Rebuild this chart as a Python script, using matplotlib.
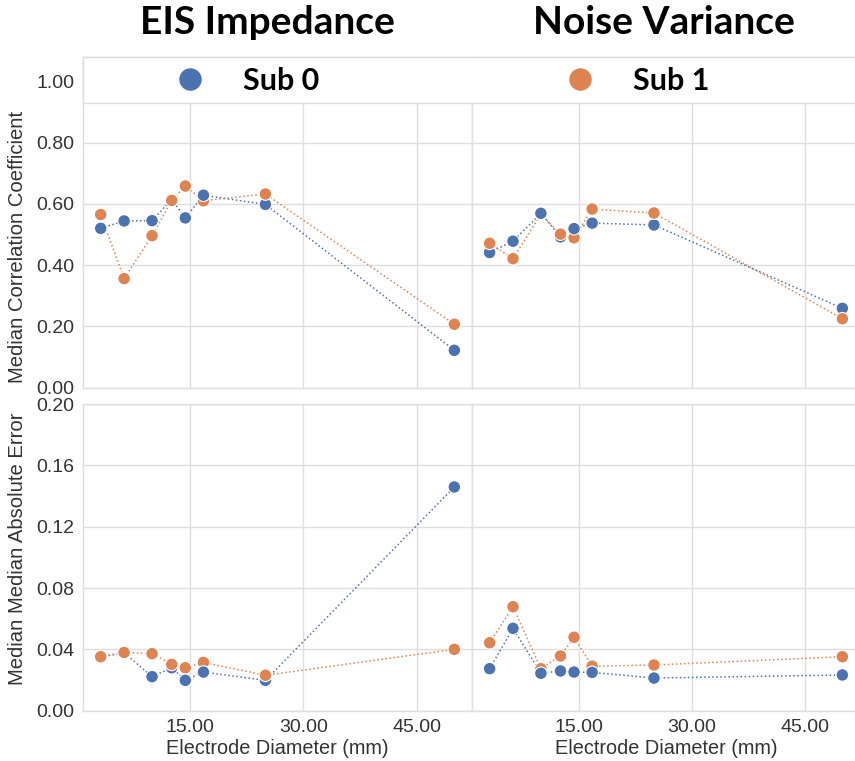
import matplotlib
matplotlib.use("Agg")
import matplotlib.pyplot as plt
from matplotlib.lines import Line2D
from matplotlib.patches import Rectangle
from matplotlib.ticker import FormatStrFormatter

# electrode diameters (mm)
diameters = [3.2, 6.3, 10.0, 12.6, 14.4, 16.8, 25.0, 50.0]
subjects = ["Sub 0", "Sub 1"]
panels = ["EIS Impedance", "Noise Variance"]

# median correlation coefficient
corr_eis_sub0 = [0.520, 0.544, 0.545, 0.614, 0.554, 0.628, 0.598, 0.122]
corr_eis_sub1 = [0.565, 0.356, 0.496, 0.611, 0.658, 0.610, 0.632, 0.207]
corr_noise_sub0 = [0.441, 0.478, 0.569, 0.492, 0.519, 0.537, 0.531, 0.259]
corr_noise_sub1 = [0.471, 0.421, 0.566, 0.501, 0.489, 0.583, 0.570, 0.225]

# median median absolute error
mae_eis_sub0 = [0.0350, 0.0378, 0.0222, 0.0280, 0.0198, 0.0252, 0.0198, 0.1459]
mae_eis_sub1 = [0.0352, 0.0380, 0.0372, 0.0302, 0.0280, 0.0315, 0.0231, 0.0400]
mae_noise_sub0 = [0.0274, 0.0537, 0.0244, 0.0259, 0.0252, 0.0250, 0.0213, 0.0233]
mae_noise_sub1 = [0.0443, 0.0678, 0.0274, 0.0357, 0.0479, 0.0290, 0.0298, 0.0352]

# which subject's marker sits on top at each diameter
sub0_on_top = [False, False, True, False, True, True, False, False]

colors = ["#4C72B0", "#DD8452"]
grid_c = "#dedede"
text_c = "#333333"
tick_font = "Liberation Sans"
bold_font = "Lato"

W, H = 855, 761
fig = plt.figure(figsize=(W / 100, H / 100), dpi=100)


def box(x0, x1, ytop, ybot):
    return [x0 / W, 1 - ybot / H, (x1 - x0) / W, (ybot - ytop) / H]


ax_tl = fig.add_axes(box(83, 472, 57.3, 387.7))
ax_tr = fig.add_axes(box(472, 860, 57.3, 387.7))
ax_bl = fig.add_axes(box(83, 472, 404, 710.7))
ax_br = fig.add_axes(box(472, 860, 404, 710.7))

data = {
    ax_tl: (corr_eis_sub0, corr_eis_sub1),
    ax_tr: (corr_noise_sub0, corr_noise_sub1),
    ax_bl: (mae_eis_sub0, mae_eis_sub1),
    ax_br: (mae_noise_sub0, mae_noise_sub1),
}

for ax, (s0, s1) in data.items():
    ax.plot(diameters, s0, ls=":", lw=1.1, color=colors[0], zorder=2)
    ax.plot(diameters, s1, ls=":", lw=1.1, color=colors[1], zorder=2)
    xs, ys, cs = [], [], []
    for i, x in enumerate(diameters):
        order = [1, 0] if sub0_on_top[i] else [0, 1]
        for k in order:
            xs.append(x)
            ys.append((s0, s1)[k][i])
            cs.append(colors[k])
    ax.scatter(xs, ys, s=82, c=cs, edgecolors="white", linewidths=0.8, zorder=3)

    ax.set_xlim(0.86, 52.34)
    ax.set_xticks([15, 30, 45])
    ax.xaxis.set_major_formatter(FormatStrFormatter("%.2f"))
    ax.grid(True, color=grid_c, lw=1.0)
    ax.set_axisbelow(True)
    for sp in ax.spines.values():
        sp.set_color(grid_c)
        sp.set_linewidth(1.0)
    ax.tick_params(length=0, pad=6, labelsize=14, labelcolor=text_c)
    for lab in ax.get_xticklabels() + ax.get_yticklabels():
        lab.set_fontfamily(tick_font)

for ax in (ax_tl, ax_tr):
    ax.set_ylim(0, 1.078)
    ax.set_yticks([0, 0.2, 0.4, 0.6, 0.8, 1.0])
    ax.yaxis.set_major_formatter(FormatStrFormatter("%.2f"))
    ax.tick_params(axis="x", labelbottom=False)
for ax in (ax_bl, ax_br):
    ax.set_ylim(0, 0.2)
    ax.set_yticks([0, 0.04, 0.08, 0.12, 0.16, 0.2])
    ax.yaxis.set_major_formatter(FormatStrFormatter("%.2f"))
    ax.set_xlabel("Electrode Diameter (mm)", fontsize=14.3, color=text_c,
                  family=tick_font, labelpad=2)
for ax in (ax_tr, ax_br):
    ax.tick_params(axis="y", labelleft=False)

ax_tl.set_ylabel("Median Correlation Coefficient", fontsize=14.6,
                 color=text_c, family=tick_font)
ax_bl.set_ylabel("Median Median Absolute Error", fontsize=14.6,
                 color=text_c, family=tick_font)
ax_tl.yaxis.set_label_coords(-0.143, 0.427)
ax_bl.yaxis.set_label_coords(-0.143, 0.529)

# legend band across the top of both upper panels
fig.patches.append(Rectangle((83 / W, 1 - 103.3 / H), (860 - 83) / W, 46 / H,
                             transform=fig.transFigure, facecolor="white",
                             edgecolor=grid_c, lw=1.0, zorder=4))
for k, xl in enumerate([174.7, 564.7]):
    h = Line2D([], [], ls="none", marker="o", markersize=17,
               markerfacecolor=colors[k], markeredgecolor="white",
               markeredgewidth=0.8)
    fig.legend([h], [subjects[k]], loc="center left",
               bbox_to_anchor=(xl / W, 1 - 80.7 / H), frameon=False,
               borderpad=0, borderaxespad=0, handlelength=1.0,
               handletextpad=1.25,
               prop={"family": bold_font, "weight": "bold", "size": 22})

# panel titles
for xc, t in zip([267, 664], panels):
    fig.text(xc / W, 1 - 23 / H, t, ha="center", va="center",
             family=bold_font, weight="bold", fontsize=28, color="black")

fig.savefig("out.png", dpi=100)
